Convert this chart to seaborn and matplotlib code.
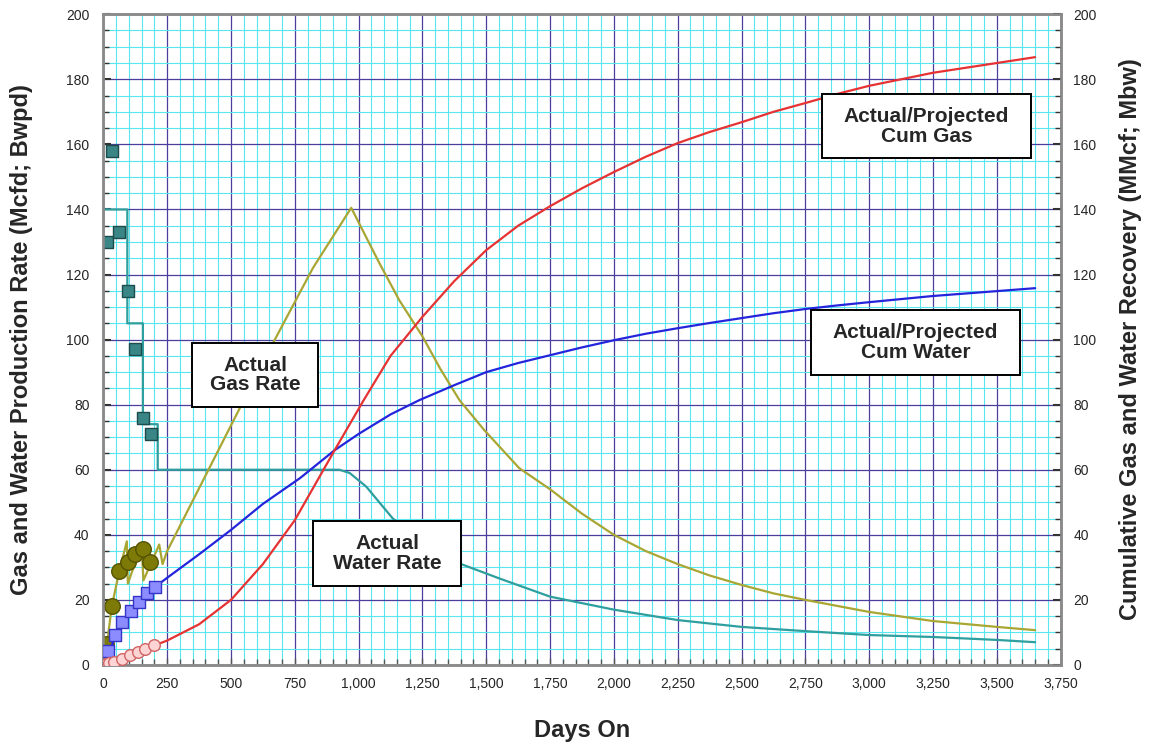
import matplotlib
matplotlib.use("Agg")
import matplotlib.pyplot as plt
import seaborn as sns
from matplotlib.patches import Rectangle
from matplotlib.ticker import MultipleLocator, FuncFormatter

sns.set_theme(style="white")
plt.rcParams['font.family'] = ['Liberation Sans', 'DejaVu Sans']

# ---- data ----
# actual gas rate (Mcfd)
gas_days = [12, 33, 63, 92, 96, 150, 157, 219, 232, 250, 509, 665, 821, 971, 1082, 1160,
            1250, 1320, 1395, 1492, 1629, 1750, 1875, 2000, 2125, 2250, 2375, 2500,
            2625, 2750, 3000, 3250, 3500, 3650]
gas_rate = [5, 18, 29, 38, 25, 37, 26, 37, 31, 35, 75, 99, 122, 140.5, 123.4, 112,
            101, 91, 81.4, 72.2, 60.5, 54, 46.5, 40, 35, 31, 27.5, 24.6,
            22, 20, 16.3, 13.5, 11.7, 10.7]
gas_pts_days = [12, 33, 63, 96, 124, 157, 183]
gas_pts = [6.4, 18.2, 28.9, 31.5, 34, 35.6, 31.5]

# actual water rate (Bwpd), stepped early history
water_days = [0, 94, 94, 155, 155, 213, 213, 925, 965, 1030, 1134, 1250, 1395, 1551,
              1750, 2000, 2250, 2500, 2750, 3000, 3250, 3500, 3650]
water_rate = [140, 140, 105, 105, 74, 74, 60, 60, 59, 54.8, 45, 38.5, 31.2, 26.6,
              21, 17, 13.8, 11.7, 10.4, 9.2, 8.6, 7.7, 7]
water_pts_days = [13, 33, 63, 96, 124, 157, 186]
water_pts = [130, 158, 133, 115, 97, 76, 71]

# cumulative water (Mbw)
cumw_days = [17, 46, 75, 108, 141, 171, 203, 250, 375, 500, 625, 770, 906, 1000, 1125,
             1238, 1375, 1500, 1625, 1750, 1875, 2000, 2125, 2250, 2375, 2500, 2625,
             2750, 2875, 3000, 3250, 3500, 3650]
cum_water = [2, 9, 13.5, 16.8, 19.6, 22, 24, 26.8, 34, 41.5, 49.5, 57.4, 66, 71, 77,
             81.4, 86, 90, 92.8, 95.2, 97.6, 99.8, 101.8, 103.5, 105.1, 106.6, 108.1,
             109.4, 110.5, 111.5, 113.4, 114.9, 115.8]
cumw_pts_days = [18, 46, 75, 108, 141, 171, 203]
cumw_pts = [4.4, 9.2, 13.3, 16.6, 19.4, 22, 24]

# cumulative gas (MMcf)
cumg_days = [10, 40, 72, 105, 135, 164, 200, 250, 375, 500, 625, 750, 906, 1020, 1125,
             1250, 1375, 1500, 1625, 1750, 1875, 2000, 2125, 2250, 2375, 2500, 2625,
             2750, 2875, 3000, 3250, 3500, 3650]
cum_gas = [0.3, 0.8, 1.6, 2.8, 3.8, 4.8, 6, 7.5, 12.5, 20, 31, 44.5, 66, 81.4, 95,
           107, 118, 127.5, 135, 141, 146.5, 151.5, 156.2, 160.4, 163.8, 166.8, 170,
           172.7, 175.5, 178, 182, 185, 186.8]
cumg_pts_days = [10, 22, 40, 72, 105, 135, 164, 200]
cumg_pts = [0.3, 0.5, 0.9, 1.7, 3.0, 3.9, 4.8, 6.1]

# ---- figure ----
fig = plt.figure(figsize=(11.52, 7.48), dpi=100)
ax = fig.add_axes([0.0897, 0.111, 0.831, 0.870])
ax2 = ax.twinx()

# grid
ax.set_axisbelow(True)
ax.xaxis.set_major_locator(MultipleLocator(250))
ax.xaxis.set_minor_locator(MultipleLocator(50))
ax.yaxis.set_major_locator(MultipleLocator(20))
ax.yaxis.set_minor_locator(MultipleLocator(5))
ax.grid(which='minor', color='#5ae6ee', lw=0.8)
ax.grid(which='major', color='#4a3f9c', lw=0.9)

# rates on left axis
sns.lineplot(x=water_days, y=water_rate, ax=ax, color='#2f9e9e', lw=1.6,
             estimator=None, sort=False)
sns.scatterplot(x=water_pts_days, y=water_pts, ax=ax, marker='s', s=75,
                color='#3a8585', edgecolor='#1d4c4c', linewidth=1, zorder=4)
sns.lineplot(x=gas_days, y=gas_rate, ax=ax, color='#a9a634', lw=1.6,
             estimator=None, sort=False)
sns.scatterplot(x=gas_pts_days, y=gas_pts, ax=ax, marker='o', s=125,
                color='#7d7a08', edgecolor='#555300', linewidth=1, zorder=4)

# cumulatives on right axis
sns.lineplot(x=cumw_days, y=cum_water, ax=ax2, color='#2424dc', lw=1.6,
             estimator=None, sort=False)
sns.scatterplot(x=cumw_pts_days, y=cumw_pts, ax=ax2, marker='s', s=65,
                color='#8c8cff', edgecolor='#3434c8', linewidth=1, zorder=4)
sns.lineplot(x=cumg_days, y=cum_gas, ax=ax2, color='#e63232', lw=1.6,
             estimator=None, sort=False)
sns.scatterplot(x=cumg_pts_days, y=cumg_pts, ax=ax2, marker='o', s=70,
                color='#ffd4d4', edgecolor='#d06464', linewidth=1, zorder=4)

for a in (ax, ax2):
    a.set_xlim(0, 3750)
    a.set_ylim(0, 200)
    for s in a.spines.values():
        s.set_color('#8a8a8a')
        s.set_linewidth(1.8)

ax.xaxis.set_major_formatter(FuncFormatter(lambda v, p: f"{int(v):,}"))
ax.tick_params(axis='x', which='both', direction='in', bottom=True, color='#555555',
               labelsize=10, pad=9)
ax.tick_params(axis='x', which='major', length=5, width=1)
ax.tick_params(axis='x', which='minor', length=4, width=1)
ax.tick_params(axis='y', which='both', direction='in', left=True, color='#333333',
               labelsize=10, pad=10)
ax.tick_params(axis='y', which='major', length=6, width=1.5)
ax.tick_params(axis='y', which='minor', length=4, width=1)

ax2.yaxis.set_major_locator(MultipleLocator(20))
ax2.yaxis.set_minor_locator(MultipleLocator(5))
ax2.tick_params(axis='y', which='both', direction='in', right=True, color='#333333',
                labelsize=10, pad=9)
ax2.tick_params(axis='y', which='major', length=6, width=1.5)
ax2.tick_params(axis='y', which='minor', length=4, width=1)
ax2.grid(False)

ax.set_xlabel("Days On", fontsize=17, fontweight='bold', labelpad=20)
ax.set_ylabel("Gas and Water Production Rate (Mcfd; Bwpd)", fontsize=17,
              fontweight='bold', labelpad=24)
ax2.set_ylabel("Cumulative Gas and Water Recovery (MMcf; Mbw)", fontsize=17,
               fontweight='bold', labelpad=16)

# callout boxes: (text, x0, x1, y0, y1) in data units
callouts = [
    ("Actual\nGas Rate", 348, 841, 79.3, 98.9),
    ("Actual\nWater Rate", 822, 1402, 24.3, 44.2),
    ("Actual/Projected\nCum Gas", 2815, 3635, 155.8, 175.4),
    ("Actual/Projected\nCum Water", 2772, 3592, 89.1, 109.1),
]
for txt, x0, x1, y0, y1 in callouts:
    ax2.add_patch(Rectangle((x0, y0), x1 - x0, y1 - y0, fc='white', ec='black',
                            lw=1.4, zorder=9))
    ax2.text((x0 + x1) / 2, (y0 + y1) / 2, txt, ha='center', va='center',
             fontsize=15, fontweight='bold', linespacing=1.05, zorder=10)

fig.savefig("out.png", dpi=100)
